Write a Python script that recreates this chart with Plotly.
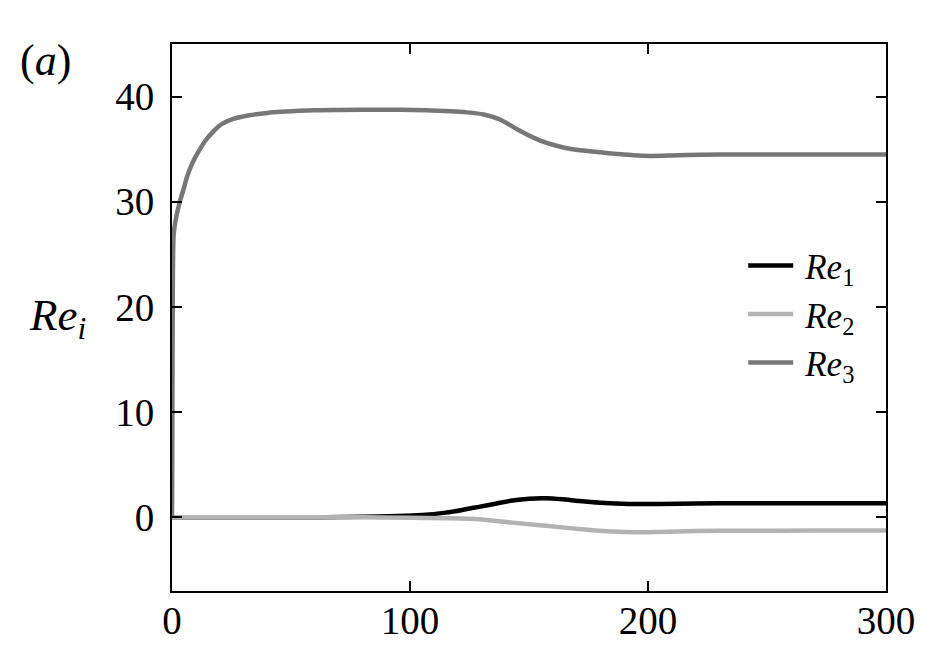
import plotly.graph_objects as go

# time samples and values
t_re1 = [0, 50, 80, 95, 105, 115, 122, 129, 136, 143, 150, 157, 164, 171, 180,
         192, 205, 220, 240, 270, 300]
re1 = [0, 0, 0.05, 0.12, 0.22, 0.45, 0.7, 1.0, 1.3, 1.6, 1.78, 1.82, 1.72, 1.56,
       1.4, 1.28, 1.27, 1.32, 1.35, 1.35, 1.35]

t_re2 = [0, 80, 100, 115, 129, 143, 157, 171, 185, 195, 205, 220, 240, 270, 300]
re2 = [0, 0, -0.03, -0.08, -0.17, -0.5, -0.8, -1.1, -1.35, -1.42, -1.38, -1.3,
       -1.27, -1.26, -1.25]

t_re3 = [0, 0.3, 0.6, 1, 2, 3.4, 5, 6.2, 8, 9.7, 12, 14, 17, 21, 26, 32, 40, 46,
         60, 80, 96, 117, 124, 131, 138, 145, 150, 155, 162, 167, 173, 180, 187,
         194, 201, 210, 222, 240, 270, 300]
re3 = [0, 20, 26.5, 27.5, 28.8, 30.1, 31.3, 32.3, 33.4, 34.2, 35.1, 35.8, 36.6,
       37.4, 37.9, 38.2, 38.45, 38.55, 38.7, 38.75, 38.75, 38.6, 38.5, 38.3,
       37.8, 36.9, 36.3, 35.8, 35.3, 35.05, 34.87, 34.7, 34.55, 34.42, 34.36,
       34.4, 34.48, 34.5, 34.5, 34.5]

x_ticks = [0, 100, 200, 300]
y_ticks = [0, 10, 20, 30, 40]

SERIF = "Liberation Serif, Tinos, Times New Roman, DejaVu Serif, serif"

fig = go.Figure()
series = [
    (t_re1, re1, "\u2009<i>Re</i><sub>1</sub>", "#000000"),
    (t_re2, re2, "\u2009<i>Re</i><sub>2</sub>", "#b3b3b3"),
    (t_re3, re3, "\u2009<i>Re</i><sub>3</sub>", "#777777"),
]
for i, (tx, ty, name, color) in enumerate(series):
    fig.add_trace(
        go.Scatter(
            x=tx, y=ty, mode="lines", name=name,
            line={"color": color, "width": 4.5, "shape": "spline", "smoothing": 0.7},
            legendgroup=f"g{i}",
        )
    )

axis_style = dict(
    showline=True, linecolor="black", linewidth=2, mirror="allticks",
    ticks="inside", ticklen=10, tickwidth=2, tickcolor="black",
    showgrid=False, zeroline=False, automargin=False,
    tickfont={"family": SERIF, "size": 39, "color": "black"},
)
fig.update_xaxes(range=[0, 300], tickvals=x_ticks, ticklabelstandoff=-6,
                 **axis_style)
fig.update_yaxes(range=[-7, 45], tickvals=y_ticks, ticklabelstandoff=8,
                 **axis_style)

fig.add_annotation(
    text="<i>Re<sub>i</sub></i>", xref="paper", yref="paper",
    x=-0.161, y=0.5, xanchor="center", yanchor="middle", showarrow=False,
    font={"family": SERIF, "size": 45, "color": "black"},
)
fig.add_annotation(
    text="(<i>a</i>)", xref="paper", yref="paper",
    x=-0.215, y=0.97, xanchor="left", yanchor="middle", showarrow=False,
    font={"family": SERIF, "size": 44, "color": "black"},
)

# the page body adds an 8px offset, so the figure is 8px smaller each way
fig.update_layout(
    width=934, height=648,
    template="plotly_white",
    font={"family": SERIF, "color": "black"},
    plot_bgcolor="white", paper_bgcolor="white",
    margin={"l": 164, "r": 56, "t": 36, "b": 65},
    legend={
        "x": 0.80, "y": 0.506, "xanchor": "left", "yanchor": "middle",
        "font": {"family": SERIF, "size": 35, "color": "black"},
        "bgcolor": "rgba(0,0,0,0)", "traceorder": "grouped",
        "tracegroupgap": 0, "itemwidth": 45,
    },
    showlegend=True,
)

fig.write_html("out.html")
